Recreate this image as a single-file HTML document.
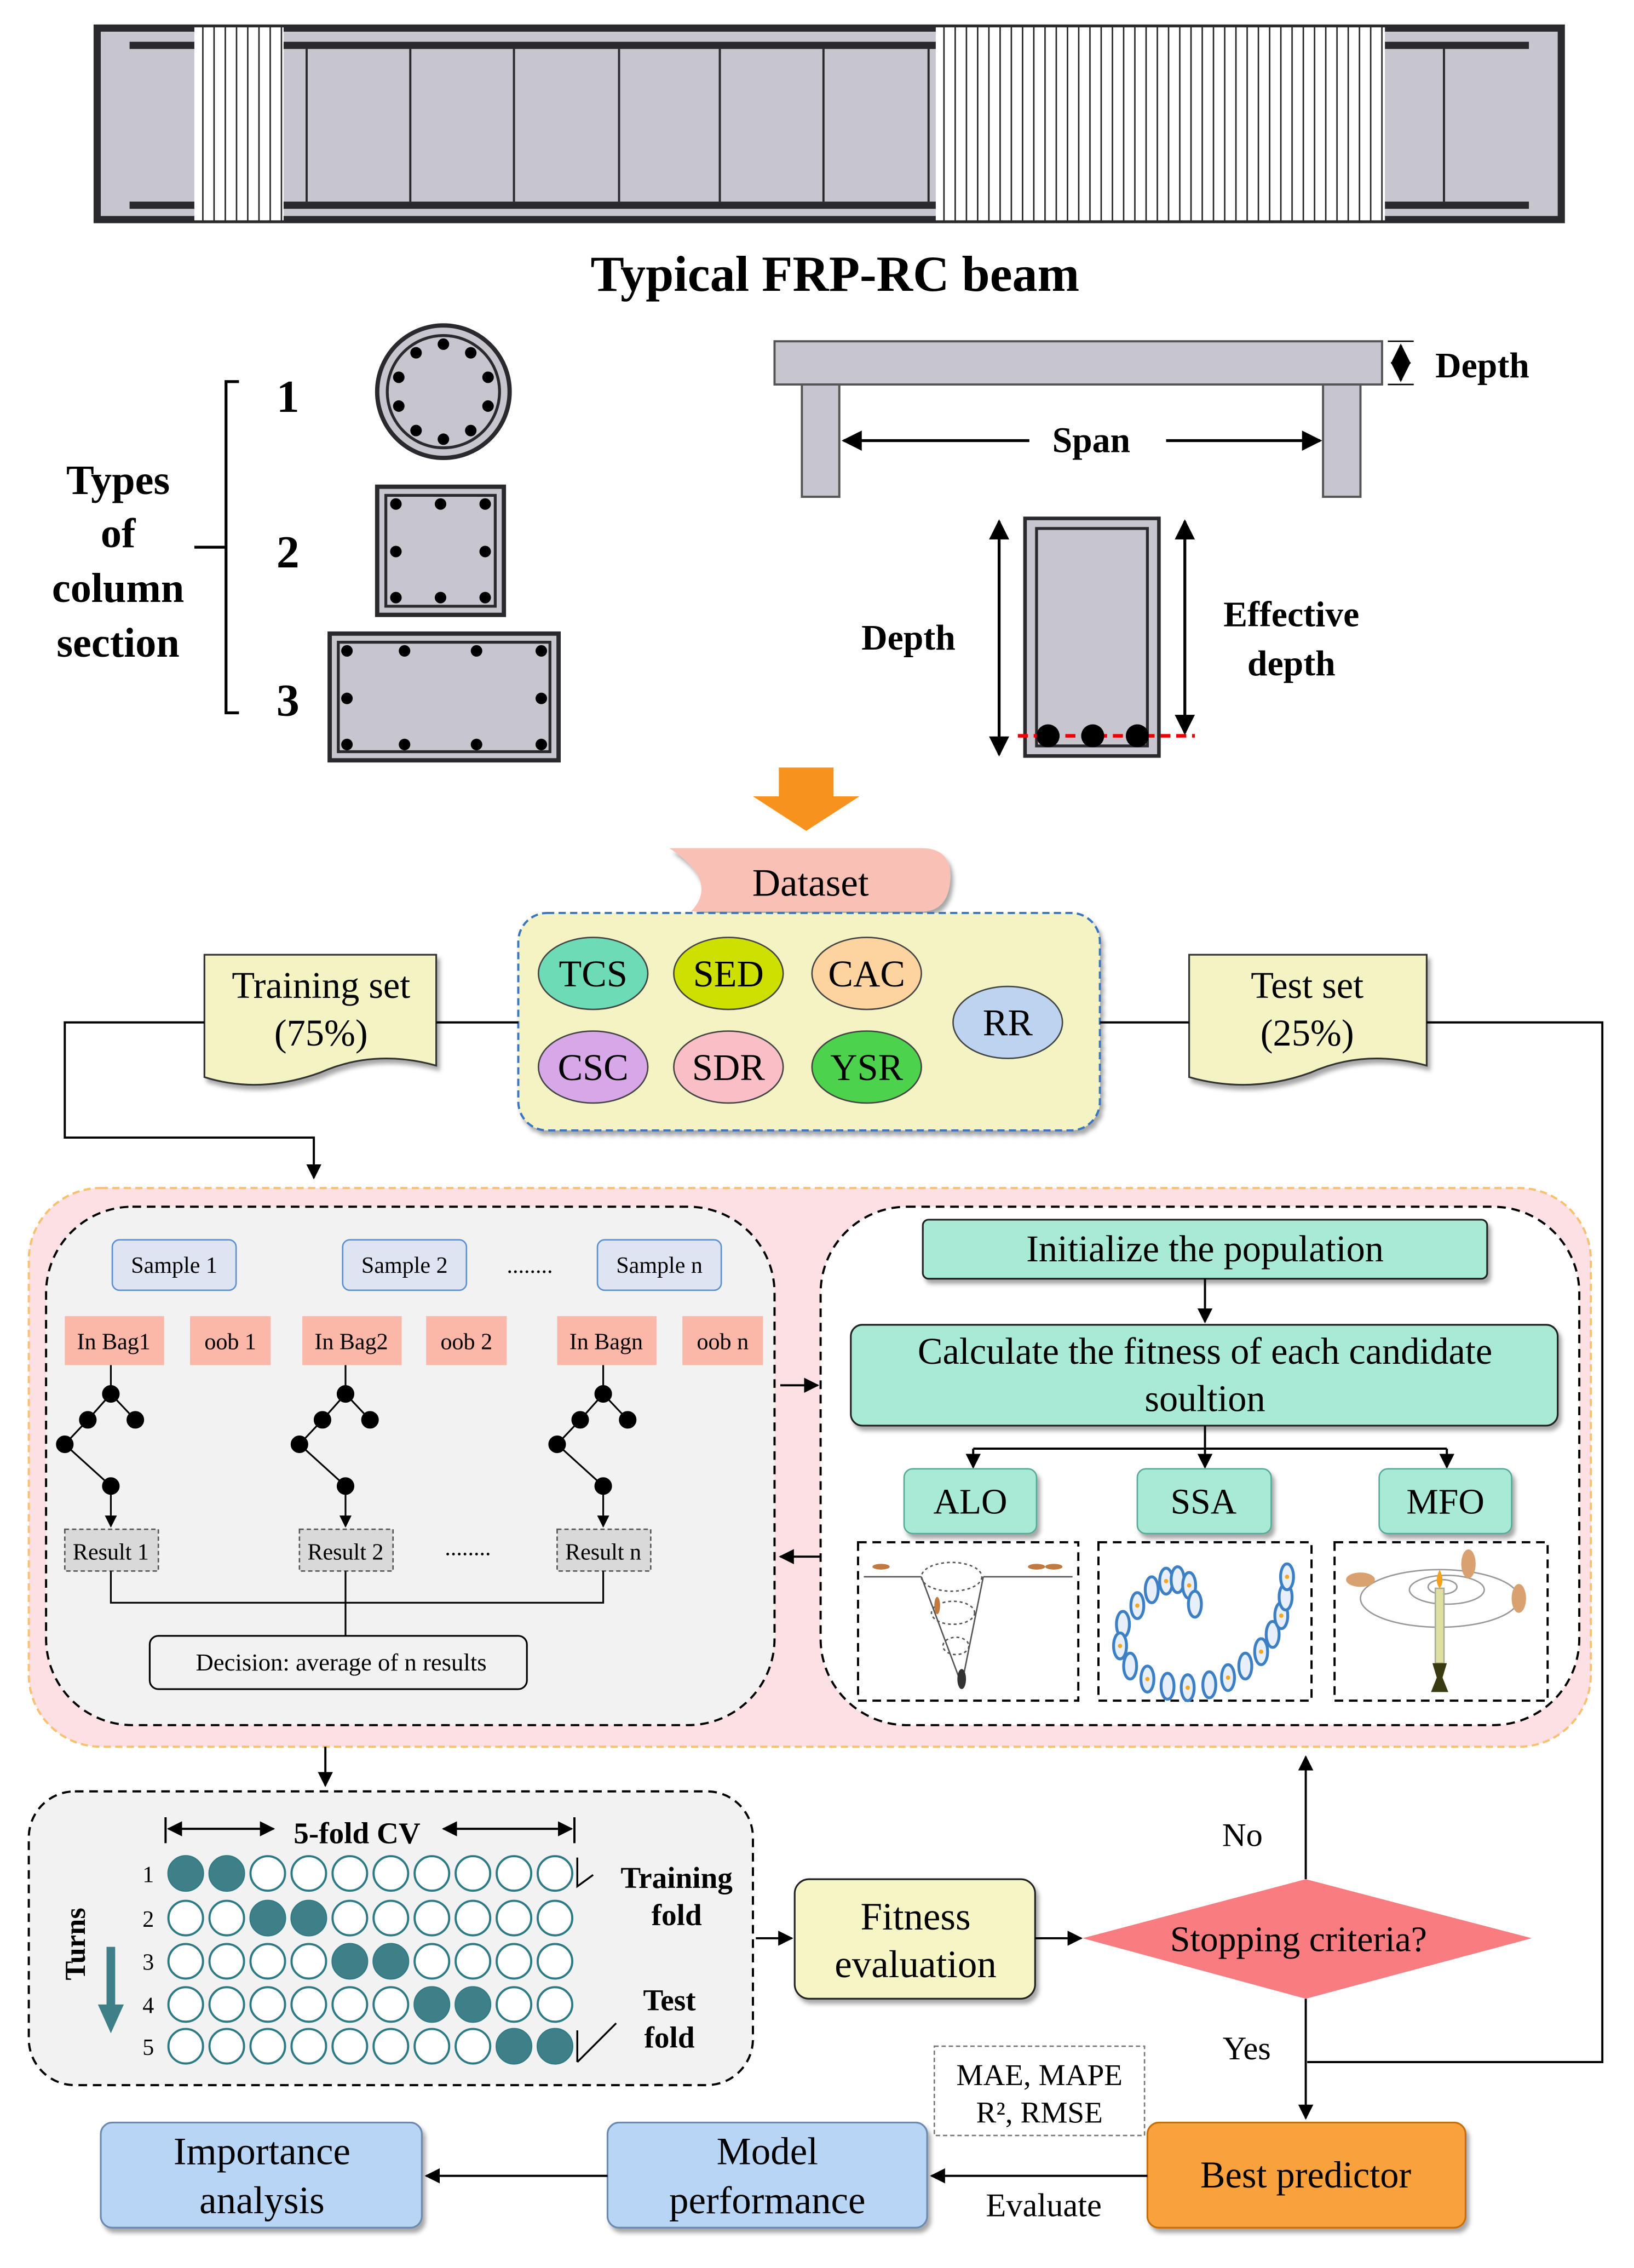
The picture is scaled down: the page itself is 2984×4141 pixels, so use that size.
<!DOCTYPE html>
<html><head><meta charset="utf-8"><style>html,body{margin:0;padding:0;background:#fff}svg{display:block}</style></head>
<body>
<svg width="2984" height="4141" viewBox="0 0 1135 1575" preserveAspectRatio="none" xmlns="http://www.w3.org/2000/svg" font-family="'Liberation Serif', serif">
<defs>
<marker id="ar" viewBox="0 0 10 10" refX="9" refY="5" markerWidth="7" markerHeight="7" orient="auto-start-reverse"><path d="M0,0 L10,5 L0,10 z" fill="#000"/></marker>
<pattern id="hat" width="7.8" height="10" patternUnits="userSpaceOnUse"><rect width="7.8" height="10" fill="#fff"/><rect x="0" width="1" height="10" fill="#222"/></pattern>
<filter id="sh" x="-10%" y="-10%" width="130%" height="140%"><feDropShadow dx="2" dy="3" stdDeviation="1.5" flood-color="#000" flood-opacity="0.35"/></filter>
</defs>
<rect x="65" y="17" width="1022" height="138" fill="#2a2a2e"/>
<rect x="70" y="22" width="1012" height="128" fill="#c7c6ce"/>
<rect x="90" y="29" width="972" height="5" fill="#2a2a2e"/>
<rect x="90" y="140" width="972" height="5" fill="#2a2a2e"/>
<g stroke="#2a2a2e" stroke-width="1.5">
<line x1="213" y1="34" x2="213" y2="140"/><line x1="285" y1="34" x2="285" y2="140"/><line x1="357" y1="34" x2="357" y2="140"/><line x1="430" y1="34" x2="430" y2="140"/><line x1="500" y1="34" x2="500" y2="140"/><line x1="572" y1="34" x2="572" y2="140"/><line x1="645" y1="34" x2="645" y2="140"/><line x1="1003" y1="34" x2="1003" y2="140"/></g>
<rect x="135" y="19" width="62" height="134" fill="url(#hat)"/>
<rect x="650" y="19" width="312" height="134" fill="url(#hat)"/>
<text x="580" y="202" font-size="35" font-weight="bold" text-anchor="middle">Typical FRP-RC beam</text>
<g font-weight="bold" font-size="29" text-anchor="middle">
<text x="82" y="343">Types</text><text x="82" y="380">of</text><text x="82" y="418">column</text><text x="82" y="456">section</text>
<text x="200" y="286" font-size="32">1</text><text x="200" y="394" font-size="32">2</text><text x="200" y="497" font-size="32">3</text></g>
<path d="M166,265 H157 V495 H166 M157,380 H135" fill="none" stroke="#000" stroke-width="2"/>
<circle cx="308" cy="272" r="46" fill="#c7c6ce" stroke="#2a2a2e" stroke-width="3"/>
<circle cx="308" cy="272" r="39" fill="none" stroke="#2a2a2e" stroke-width="2"/>
<g fill="#000"><circle cx="308" cy="239" r="4"/><circle cx="327" cy="245" r="4"/><circle cx="339" cy="262" r="4"/><circle cx="339" cy="282" r="4"/><circle cx="327" cy="299" r="4"/><circle cx="308" cy="305" r="4"/><circle cx="289" cy="299" r="4"/><circle cx="277" cy="282" r="4"/><circle cx="277" cy="262" r="4"/><circle cx="289" cy="245" r="4"/></g>
<rect x="262" y="338" width="88" height="89" fill="#c7c6ce" stroke="#2a2a2e" stroke-width="3"/>
<rect x="268" y="344" width="76" height="77" fill="none" stroke="#2a2a2e" stroke-width="2"/>
<g fill="#000"><circle cx="275" cy="350" r="4"/><circle cx="306" cy="350" r="4"/><circle cx="337" cy="350" r="4"/><circle cx="275" cy="383" r="4"/><circle cx="337" cy="383" r="4"/><circle cx="275" cy="415" r="4"/><circle cx="306" cy="415" r="4"/><circle cx="337" cy="415" r="4"/></g>
<rect x="229" y="440" width="159" height="88" fill="#c7c6ce" stroke="#2a2a2e" stroke-width="3"/>
<rect x="235" y="446" width="147" height="76" fill="none" stroke="#2a2a2e" stroke-width="2"/>
<g fill="#000"><circle cx="241" cy="452" r="4"/><circle cx="281" cy="452" r="4"/><circle cx="331" cy="452" r="4"/><circle cx="376" cy="452" r="4"/><circle cx="241" cy="485" r="4"/><circle cx="376" cy="485" r="4"/><circle cx="241" cy="517" r="4"/><circle cx="281" cy="517" r="4"/><circle cx="331" cy="517" r="4"/><circle cx="376" cy="517" r="4"/></g>
<rect x="538" y="237" width="422" height="30" fill="#c7c6ce" stroke="#555" stroke-width="1.5"/>
<rect x="557" y="267" width="26" height="78" fill="#c7c6ce" stroke="#555" stroke-width="1.5"/>
<rect x="919" y="267" width="26" height="78" fill="#c7c6ce" stroke="#555" stroke-width="1.5"/>
<line x1="973" y1="240" x2="973" y2="264" stroke="#000" stroke-width="2" marker-start="url(#ar)" marker-end="url(#ar)"/>
<line x1="964" y1="237" x2="982" y2="237" stroke="#000"/><line x1="964" y1="267" x2="982" y2="267" stroke="#000"/>
<text x="997" y="262" font-size="25" font-weight="bold">Depth</text>
<line x1="715" y1="306" x2="586" y2="306" stroke="#000" stroke-width="2" marker-end="url(#ar)"/>
<line x1="810" y1="306" x2="917" y2="306" stroke="#000" stroke-width="2" marker-end="url(#ar)"/>
<text x="758" y="314" font-size="25" font-weight="bold" text-anchor="middle">Span</text>
<rect x="712" y="360" width="93" height="165" fill="#c7c6ce" stroke="#2a2a2e" stroke-width="2.5"/>
<rect x="720" y="367" width="77" height="151" fill="none" stroke="#2a2a2e" stroke-width="2"/>
<line x1="707" y1="511" x2="830" y2="511" stroke="#e00" stroke-width="2.5" stroke-dasharray="7,4"/>
<circle cx="728" cy="511" r="8" fill="#000"/><circle cx="759" cy="511" r="8" fill="#000"/><circle cx="790" cy="511" r="8" fill="#000"/>
<line x1="694" y1="362" x2="694" y2="524" stroke="#000" stroke-width="2" marker-start="url(#ar)" marker-end="url(#ar)"/>
<line x1="823" y1="362" x2="823" y2="509" stroke="#000" stroke-width="2" marker-start="url(#ar)" marker-end="url(#ar)"/>
<text x="631" y="451" font-size="25" font-weight="bold" text-anchor="middle">Depth</text>
<text x="897" y="435" font-size="25" font-weight="bold" text-anchor="middle">Effective</text>
<text x="897" y="469" font-size="25" font-weight="bold" text-anchor="middle">depth</text>
<path d="M541,533 H579 V553 H597 L560,577 L523,553 H541 Z" fill="#f7921e"/>
<path d="M465,589 H640 Q662,589 660,612 Q658,633 640,633 H480 Q500,612 465,589 Z" fill="#f9c0b5" filter="url(#sh)"/>
<text x="563" y="622" font-size="27" text-anchor="middle">Dataset</text>
<rect x="360" y="634" width="404" height="151" rx="20" fill="#f3f3c4" stroke="#3b74c0" stroke-width="1.5" stroke-dasharray="5,3" filter="url(#sh)"/>
<g stroke="#444" stroke-width="1" font-size="26" text-anchor="middle">
<ellipse cx="412" cy="676" rx="38" ry="25" fill="#6ddbb5"/><ellipse cx="506" cy="676" rx="38" ry="25" fill="#cde000"/><ellipse cx="602" cy="676" rx="38" ry="25" fill="#fdd3a0"/>
<ellipse cx="412" cy="741" rx="38" ry="25" fill="#d7a7e8"/><ellipse cx="506" cy="741" rx="38" ry="25" fill="#f9bec6"/><ellipse cx="602" cy="741" rx="38" ry="25" fill="#4dd24d"/>
<ellipse cx="700" cy="710" rx="38" ry="25" fill="#bcd4f0"/></g>
<g font-size="26" text-anchor="middle">
<text x="412" y="685">TCS</text><text x="506" y="685">SED</text><text x="602" y="685">CAC</text><text x="412" y="750">CSC</text><text x="506" y="750">SDR</text><text x="602" y="750">YSR</text><text x="700" y="719">RR</text></g>
<path d="M142,663 H303 V740 Q260,728 222,745 Q180,760 142,748 Z" fill="#f3f3c4" stroke="#333" stroke-width="1.2" filter="url(#sh)"/>
<path d="M826,663 H991 V740 Q948,728 910,745 Q868,760 826,748 Z" fill="#f3f3c4" stroke="#333" stroke-width="1.2" filter="url(#sh)"/>
<g font-size="26" text-anchor="middle"><text x="223" y="693">Training set</text><text x="223" y="726">(75%)</text><text x="908" y="693">Test set</text><text x="908" y="726">(25%)</text></g>
<g fill="none" stroke="#000" stroke-width="1.5">
<path d="M142,710 H45 V790 H218 V818" marker-end="url(#ar)"/>
<path d="M303,710 H360"/><path d="M764,710 H826"/>
<path d="M991,710 H1113 V1432 H908"/>
</g>
<rect x="20" y="825" width="1085" height="388" rx="50" fill="#fde0e4" stroke="#f8c070" stroke-width="1.5" stroke-dasharray="5,3"/>
<rect x="32" y="838" width="506" height="360" rx="60" fill="#f2f2f2" stroke="#000" stroke-width="1.5" stroke-dasharray="6,4"/>
<rect x="570" y="838" width="527" height="360" rx="60" fill="#fff" stroke="#000" stroke-width="1.5" stroke-dasharray="6,4"/>
<g font-size="16" text-anchor="middle">
<rect x="78" y="861" width="86" height="35" rx="5" fill="#dfe4f2" stroke="#5b8fd0"/><text x="121" y="884">Sample 1</text>
<rect x="238" y="861" width="86" height="35" rx="5" fill="#dfe4f2" stroke="#5b8fd0"/><text x="281" y="884">Sample 2</text>
<rect x="415" y="861" width="86" height="35" rx="5" fill="#dfe4f2" stroke="#5b8fd0"/><text x="458" y="884">Sample n</text>
<text x="368" y="884">........</text>
<rect x="45" y="914" width="69" height="34" fill="#fbb7a7"/><text x="79" y="937">In Bag1</text>
<rect x="132" y="914" width="56" height="34" fill="#fbb7a7"/><text x="160" y="937">oob 1</text>
<rect x="210" y="914" width="69" height="34" fill="#fbb7a7"/><text x="244" y="937">In Bag2</text>
<rect x="296" y="914" width="56" height="34" fill="#fbb7a7"/><text x="324" y="937">oob 2</text>
<rect x="387" y="914" width="69" height="34" fill="#fbb7a7"/><text x="421" y="937">In Bagn</text>
<rect x="474" y="914" width="56" height="34" fill="#fbb7a7"/><text x="502" y="937">oob n</text>
</g>
<g id="tree" stroke="#000" stroke-width="1.2" fill="#000">
<line x1="77" y1="948" x2="77" y2="968"/><line x1="77" y1="968" x2="61" y2="986"/><line x1="77" y1="968" x2="94" y2="986"/><line x1="61" y1="986" x2="45" y2="1003"/><line x1="45" y1="1003" x2="77" y2="1032"/><line x1="77" y1="1032" x2="77" y2="1060" marker-end="url(#ar)"/>
<circle cx="77" cy="968" r="5.5"/><circle cx="61" cy="986" r="5.5"/><circle cx="94" cy="986" r="5.5"/><circle cx="45" cy="1003" r="5.5"/><circle cx="77" cy="1032" r="5.5"/></g>
<use href="#tree" x="163"/><use href="#tree" x="342"/>
<g font-size="16" text-anchor="middle">
<rect x="45" y="1062" width="65" height="29" fill="#d9d9d9" stroke="#555" stroke-dasharray="3,2"/><text x="77" y="1083">Result 1</text>
<rect x="208" y="1062" width="65" height="29" fill="#d9d9d9" stroke="#555" stroke-dasharray="3,2"/><text x="240" y="1083">Result 2</text>
<rect x="387" y="1062" width="65" height="29" fill="#d9d9d9" stroke="#555" stroke-dasharray="3,2"/><text x="419" y="1083">Result n</text>
<text x="325" y="1080">........</text></g>
<path d="M77,1091 V1113 H419 V1091 M240,1091 V1137" fill="none" stroke="#000" stroke-width="1.2"/>
<rect x="104" y="1136" width="262" height="37" rx="6" fill="#f2f2f2" stroke="#000" stroke-width="1.2"/>
<text x="237" y="1160" font-size="17" text-anchor="middle">Decision: average of n results</text>
<line x1="542" y1="962" x2="568" y2="962" stroke="#000" stroke-width="1.5" marker-end="url(#ar)"/>
<line x1="570" y1="1081" x2="542" y2="1081" stroke="#000" stroke-width="1.5" marker-end="url(#ar)"/>
<rect x="641" y="847" width="392" height="41" rx="4" fill="#a8ead6" stroke="#222" stroke-width="1.2" filter="url(#sh)"/>
<text x="837" y="876" font-size="26" text-anchor="middle">Initialize the population</text>
<line x1="837" y1="888" x2="837" y2="918" stroke="#000" stroke-width="1.5" marker-end="url(#ar)"/>
<rect x="591" y="920" width="491" height="70" rx="8" fill="#a8ead6" stroke="#222" stroke-width="1.2" filter="url(#sh)"/>
<text x="837" y="947" font-size="26" text-anchor="middle">Calculate the fitness of each candidate</text>
<text x="837" y="980" font-size="26" text-anchor="middle">soultion</text>
<path d="M837,990 V1006 M676,1006 H1005" stroke="#000" stroke-width="1.5"/>
<line x1="676" y1="1006" x2="676" y2="1019" stroke="#000" stroke-width="1.5" marker-end="url(#ar)"/>
<line x1="837" y1="1006" x2="837" y2="1019" stroke="#000" stroke-width="1.5" marker-end="url(#ar)"/>
<line x1="1005" y1="1006" x2="1005" y2="1019" stroke="#000" stroke-width="1.5" marker-end="url(#ar)"/>
<g font-size="25" text-anchor="middle">
<rect x="628" y="1020" width="92" height="45" rx="6" fill="#a8ead6" stroke="#5a9" filter="url(#sh)"/><text x="674" y="1051">ALO</text>
<rect x="790" y="1020" width="93" height="45" rx="6" fill="#a8ead6" stroke="#5a9" filter="url(#sh)"/><text x="836" y="1051">SSA</text>
<rect x="958" y="1020" width="92" height="45" rx="6" fill="#a8ead6" stroke="#5a9" filter="url(#sh)"/><text x="1004" y="1051">MFO</text></g>
<g fill="none" stroke="#000" stroke-width="1.5" stroke-dasharray="6,4">
<rect x="596" y="1071" width="153" height="110"/><rect x="763" y="1071" width="148" height="110"/><rect x="927" y="1071" width="148" height="110"/></g>
<g fill="none" stroke="#555" stroke-width="1"><path d="M600,1095 H640 M683,1095 H745"/><path d="M640,1095 L668,1170 L683,1095"/>
<ellipse cx="661" cy="1095" rx="21" ry="10" stroke-dasharray="2,2"/><ellipse cx="662" cy="1120" rx="15" ry="8" stroke-dasharray="2,2"/><ellipse cx="664" cy="1143" rx="9" ry="6" stroke-dasharray="2,2"/></g>
<ellipse cx="668" cy="1166" rx="3" ry="7" fill="#333"/>
<g fill="#c07a40"><ellipse cx="612" cy="1088" rx="6" ry="2"/><ellipse cx="720" cy="1088" rx="6" ry="2"/><ellipse cx="732" cy="1088" rx="6" ry="2"/><ellipse cx="651" cy="1115" rx="2" ry="6"/></g>
<g fill="#e6effa" stroke="#3d7fc4" stroke-width="2">
<ellipse cx="810" cy="1098" rx="4.5" ry="9"/><ellipse cx="818" cy="1097" rx="4.5" ry="9"/><ellipse cx="826" cy="1101" rx="4.5" ry="9"/><ellipse cx="830" cy="1114" rx="4.5" ry="9"/>
<ellipse cx="800" cy="1104" rx="4.5" ry="9"/><ellipse cx="790" cy="1115" rx="4.5" ry="9"/><ellipse cx="780" cy="1128" rx="4.5" ry="9"/><ellipse cx="778" cy="1143" rx="4.5" ry="9"/>
<ellipse cx="785" cy="1157" rx="4.5" ry="9"/><ellipse cx="797" cy="1166" rx="4.5" ry="9"/><ellipse cx="811" cy="1171" rx="4.5" ry="9"/><ellipse cx="825" cy="1172" rx="4.5" ry="9"/>
<ellipse cx="840" cy="1170" rx="4.5" ry="9"/><ellipse cx="853" cy="1165" rx="4.5" ry="9"/><ellipse cx="865" cy="1157" rx="4.5" ry="9"/><ellipse cx="876" cy="1147" rx="4.5" ry="9"/>
<ellipse cx="884" cy="1135" rx="4.5" ry="9"/><ellipse cx="890" cy="1122" rx="4.5" ry="9"/><ellipse cx="893" cy="1109" rx="4.5" ry="9"/><ellipse cx="894" cy="1095" rx="4.5" ry="9"/></g>
<g fill="#f5a623"><circle cx="810" cy="1098" r="1.5"/><circle cx="826" cy="1101" r="1.5"/><circle cx="790" cy="1115" r="1.5"/><circle cx="778" cy="1143" r="1.5"/><circle cx="797" cy="1166" r="1.5"/><circle cx="825" cy="1172" r="1.5"/><circle cx="853" cy="1165" r="1.5"/><circle cx="876" cy="1147" r="1.5"/><circle cx="890" cy="1122" r="1.5"/><circle cx="894" cy="1095" r="1.5"/></g>
<g fill="none" stroke="#999" stroke-width="1"><ellipse cx="1000" cy="1110" rx="55" ry="20"/><ellipse cx="1005" cy="1104" rx="26" ry="10"/><ellipse cx="1002" cy="1102" rx="10" ry="5"/></g>
<rect x="997" y="1103" width="6" height="52" fill="#dfe0a0" stroke="#aa9"/>
<path d="M1000,1090 Q1004,1098 1000,1103 Q996,1098 1000,1090 Z" fill="#f5a020"/>
<path d="M995,1155 H1005 L1002,1165 L1006,1175 H994 L998,1165 Z" fill="#3a3a10"/>
<g fill="#d9a070"><ellipse cx="945" cy="1097" rx="10" ry="5"/><ellipse cx="1020" cy="1086" rx="5" ry="10"/><ellipse cx="1055" cy="1110" rx="5" ry="10"/></g>
<line x1="226" y1="1213" x2="226" y2="1240" stroke="#000" stroke-width="1.5" marker-end="url(#ar)"/>
<rect x="20" y="1244" width="503" height="204" rx="32" fill="#f2f2f2" stroke="#000" stroke-width="1.5" stroke-dasharray="6,4"/>
<text x="248" y="1280" font-size="21" font-weight="bold" text-anchor="middle">5-fold CV</text>
<line x1="117" y1="1270" x2="190" y2="1270" stroke="#000" stroke-width="1.5" marker-start="url(#ar)" marker-end="url(#ar)"/>
<line x1="308" y1="1270" x2="397" y2="1270" stroke="#000" stroke-width="1.5" marker-start="url(#ar)" marker-end="url(#ar)"/>
<line x1="115" y1="1262" x2="115" y2="1280" stroke="#000" stroke-width="1.5"/><line x1="399" y1="1262" x2="399" y2="1280" stroke="#000" stroke-width="1.5"/>
<g font-size="16" text-anchor="middle"><text x="103" y="1307">1</text><text x="103" y="1338">2</text><text x="103" y="1368">3</text><text x="103" y="1398">4</text><text x="103" y="1427">5</text></g>
<g stroke="#2e7a84" stroke-width="1.5" fill="#fff">
<g id="row"><circle cx="129" cy="1301" r="12"/><circle cx="157.5" cy="1301" r="12"/><circle cx="186" cy="1301" r="12"/><circle cx="214.5" cy="1301" r="12"/><circle cx="243" cy="1301" r="12"/><circle cx="271.5" cy="1301" r="12"/><circle cx="300" cy="1301" r="12"/><circle cx="328.5" cy="1301" r="12"/><circle cx="357" cy="1301" r="12"/><circle cx="385.5" cy="1301" r="12"/></g>
<use href="#row" y="31"/><use href="#row" y="61"/><use href="#row" y="91"/><use href="#row" y="120"/></g>
<g fill="#3e7f88"><circle cx="129" cy="1301" r="12"/><circle cx="157.5" cy="1301" r="12"/><circle cx="186" cy="1332" r="12"/><circle cx="214.5" cy="1332" r="12"/><circle cx="243" cy="1362" r="12"/><circle cx="271.5" cy="1362" r="12"/><circle cx="300" cy="1392" r="12"/><circle cx="328.5" cy="1392" r="12"/><circle cx="357" cy="1421" r="12"/><circle cx="385.5" cy="1421" r="12"/></g>
<path d="M74,1352 H80 V1392 H86 L77,1412 L68,1392 H74 Z" fill="#3e7f88"/>
<text x="0" y="0" font-size="20" font-weight="bold" text-anchor="middle" transform="translate(59,1350) rotate(-90)">Turns</text>
<path d="M401,1290 V1310 L412,1302 M401,1410 V1432 M401,1432 L428,1405" fill="none" stroke="#000" stroke-width="1.3"/>
<g font-size="21" font-weight="bold" text-anchor="middle"><text x="470" y="1311">Training</text><text x="470" y="1337">fold</text><text x="465" y="1396">Test</text><text x="465" y="1422">fold</text></g>
<line x1="525" y1="1346" x2="550" y2="1346" stroke="#000" stroke-width="1.5" marker-end="url(#ar)"/>
<rect x="552" y="1305" width="167" height="83" rx="10" fill="#f5f5c6" stroke="#222" stroke-width="1.2" filter="url(#sh)"/>
<text x="636" y="1340" font-size="27" text-anchor="middle">Fitness</text><text x="636" y="1373" font-size="27" text-anchor="middle">evaluation</text>
<line x1="719" y1="1346" x2="751" y2="1346" stroke="#000" stroke-width="1.5" marker-end="url(#ar)"/>
<path d="M752,1346 L907,1305 L1064,1346 L907,1388 Z" fill="#f87c80"/>
<text x="902" y="1355" font-size="25" text-anchor="middle">Stopping criteria?</text>
<line x1="907" y1="1305" x2="907" y2="1220" stroke="#000" stroke-width="1.5" marker-end="url(#ar)"/>
<text x="863" y="1282" font-size="23" text-anchor="middle">No</text>
<line x1="907" y1="1388" x2="907" y2="1471" stroke="#000" stroke-width="1.5" marker-end="url(#ar)"/>
<text x="866" y="1430" font-size="23" text-anchor="middle">Yes</text>
<rect x="649" y="1421" width="146" height="62" fill="#fff" stroke="#777" stroke-dasharray="3,2"/>
<text x="722" y="1448" font-size="21" text-anchor="middle">MAE, MAPE</text><text x="722" y="1474" font-size="21" text-anchor="middle">R², RMSE</text>
<rect x="797" y="1474" width="221" height="73" rx="8" fill="#f9a23c" stroke="#c57010" stroke-width="1.2" filter="url(#sh)"/>
<text x="907" y="1519" font-size="26" text-anchor="middle">Best predictor</text>
<line x1="797" y1="1511" x2="647" y2="1511" stroke="#000" stroke-width="1.5" marker-end="url(#ar)"/>
<text x="725" y="1539" font-size="23" text-anchor="middle">Evaluate</text>
<rect x="422" y="1474" width="222" height="73" rx="8" fill="#b8d5f5" stroke="#6a8ab0" stroke-width="1.2" filter="url(#sh)"/>
<text x="533" y="1503" font-size="27" text-anchor="middle">Model</text><text x="533" y="1537" font-size="27" text-anchor="middle">performance</text>
<line x1="422" y1="1511" x2="296" y2="1511" stroke="#000" stroke-width="1.5" marker-end="url(#ar)"/>
<rect x="70" y="1474" width="223" height="73" rx="8" fill="#b8d5f5" stroke="#6a8ab0" stroke-width="1.2" filter="url(#sh)"/>
<text x="182" y="1503" font-size="27" text-anchor="middle">Importance</text><text x="182" y="1537" font-size="27" text-anchor="middle">analysis</text>
</svg>
</body></html>
